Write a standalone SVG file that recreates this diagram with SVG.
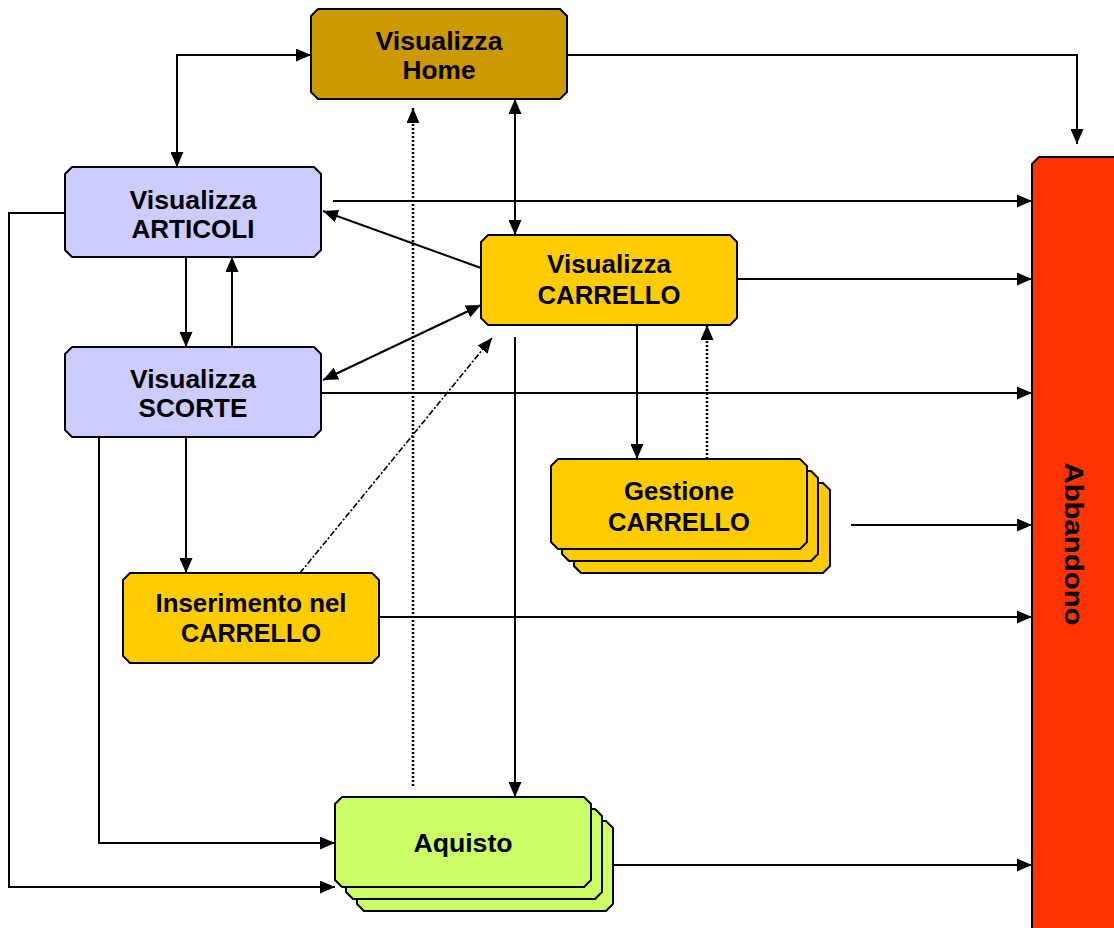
<svg xmlns="http://www.w3.org/2000/svg" width="1114" height="928" viewBox="0 0 1114 928">
  <style>
    .box { stroke: #000; stroke-width: 2; stroke-linejoin: round; }
    .home { fill: #CC9900; }
    .lilac { fill: #CCCCFF; }
    .gold { fill: #FFCC00; }
    .lime { fill: #CCFF66; }
    .exit { fill: #FF3300; }
    .lbl { font-family: "Liberation Sans", Arial, sans-serif; font-weight: bold; font-size: 25px; fill: #000; text-anchor: middle; }
    .ln { fill: none; stroke: #000; stroke-width: 2; }
    .dot { fill: none; stroke: #000; stroke-width: 2.5; stroke-dasharray: 2 2; }
    .dashdot { fill: none; stroke: #000; stroke-width: 1.6; stroke-dasharray: 6 2 2 2; }
  </style>
  <defs>
    <marker id="arr" viewBox="0 0 15 13" refX="15" refY="6.5" markerWidth="15" markerHeight="13" markerUnits="userSpaceOnUse" orient="auto-start-reverse">
      <path d="M0,0 L15,6.5 L0,13 Z" fill="#000"/>
    </marker>
  </defs>

  <rect width="1114" height="928" fill="#fff"/>

  <!-- connectors -->
  <g id="connectors">
    <polyline class="ln" points="177,167 177,55 311,55" marker-start="url(#arr)" marker-end="url(#arr)"/>
    <polyline class="ln" points="567,55 1077,55 1077,144" marker-end="url(#arr)"/>
    <line class="ln" x1="515" y1="99" x2="515" y2="235" marker-start="url(#arr)" marker-end="url(#arr)"/>
    <line class="ln" x1="333" y1="201" x2="1032" y2="201" marker-end="url(#arr)"/>
    <line class="ln" x1="481" y1="268" x2="323" y2="211" marker-end="url(#arr)"/>
    <line class="ln" x1="737" y1="279" x2="1032" y2="279" marker-end="url(#arr)"/>
    <line class="ln" x1="186" y1="257" x2="186" y2="347" marker-end="url(#arr)"/>
    <line class="ln" x1="232" y1="347" x2="232" y2="257" marker-end="url(#arr)"/>
    <line class="ln" x1="323" y1="380" x2="481" y2="305" marker-start="url(#arr)" marker-end="url(#arr)"/>
    <line class="ln" x1="321" y1="393" x2="1032" y2="393" marker-end="url(#arr)"/>
    <line class="ln" x1="186" y1="437" x2="186" y2="573" marker-end="url(#arr)"/>
    <polyline class="ln" points="99,437 99,843 335,843" marker-end="url(#arr)"/>
    <polyline class="ln" points="65,213 9,213 9,887 335,887" marker-end="url(#arr)"/>
    <line class="ln" x1="637" y1="325" x2="637" y2="459" marker-end="url(#arr)"/>
    <line class="dot" x1="707" y1="459" x2="707" y2="325" marker-end="url(#arr)"/>
    <line class="ln" x1="851" y1="525" x2="1032" y2="525" marker-end="url(#arr)"/>
    <line class="ln" x1="379" y1="617" x2="1032" y2="617" marker-end="url(#arr)"/>
    <line class="dashdot" x1="300" y1="573" x2="492" y2="338" marker-end="url(#arr)"/>
    <line class="dot" x1="413" y1="786" x2="413" y2="108" marker-end="url(#arr)"/>
    <line class="ln" x1="515" y1="337" x2="515" y2="797" marker-end="url(#arr)"/>
    <line class="ln" x1="613" y1="865" x2="1032" y2="865" marker-end="url(#arr)"/>
  </g>

  <!-- nodes -->
  <g id="home">
    <path class="box home" d="M318,9 H560 L567,16 V92 L560,99 H318 L311,92 V16 Z"/>
    <text class="lbl" x="439" y="50" textLength="127" lengthAdjust="spacingAndGlyphs">Visualizza</text>
    <text class="lbl" x="439" y="79" textLength="73" lengthAdjust="spacingAndGlyphs">Home</text>
  </g>

  <g id="articoli">
    <path class="box lilac" d="M72,167 H314 L321,174 V250 L314,257 H72 L65,250 V174 Z"/>
    <text class="lbl" x="193" y="209" textLength="127" lengthAdjust="spacingAndGlyphs">Visualizza</text>
    <text class="lbl" x="193" y="238" textLength="123" lengthAdjust="spacingAndGlyphs">ARTICOLI</text>
  </g>

  <g id="scorte">
    <path class="box lilac" d="M72,347 H314 L321,354 V430 L314,437 H72 L65,430 V354 Z"/>
    <text class="lbl" x="193" y="388" textLength="126" lengthAdjust="spacingAndGlyphs">Visualizza</text>
    <text class="lbl" x="193" y="417" textLength="109" lengthAdjust="spacingAndGlyphs">SCORTE</text>
  </g>

  <g id="carrello">
    <path class="box gold" d="M488,235 H730 L737,242 V318 L730,325 H488 L481,318 V242 Z"/>
    <text class="lbl" x="609" y="273" textLength="124" lengthAdjust="spacingAndGlyphs">Visualizza</text>
    <text class="lbl" x="609" y="304" textLength="143" lengthAdjust="spacingAndGlyphs">CARRELLO</text>
  </g>

  <g id="gestione">
    <path class="box gold" d="M581,483 H823 L830,490 V566 L823,573 H581 L574,566 V490 Z"/>
    <path class="box gold" d="M569,471 H811 L818,478 V554 L811,561 H569 L562,554 V478 Z"/>
    <path class="box gold" d="M558,459 H800 L807,466 V542 L800,549 H558 L551,542 V466 Z"/>
    <text class="lbl" x="679" y="500" textLength="110" lengthAdjust="spacingAndGlyphs">Gestione</text>
    <text class="lbl" x="679" y="531" textLength="142" lengthAdjust="spacingAndGlyphs">CARRELLO</text>
  </g>

  <g id="inserimento">
    <path class="box gold" d="M130,573 H372 L379,580 V656 L372,663 H130 L123,656 V580 Z"/>
    <text class="lbl" x="251" y="612" textLength="191" lengthAdjust="spacingAndGlyphs">Inserimento nel</text>
    <text class="lbl" x="251" y="642" textLength="140" lengthAdjust="spacingAndGlyphs">CARRELLO</text>
  </g>

  <g id="aquisto">
    <path class="box lime" d="M364,821 H606 L613,828 V904 L606,911 H364 L357,904 V828 Z"/>
    <path class="box lime" d="M353,809 H595 L602,816 V892 L595,899 H353 L346,892 V816 Z"/>
    <path class="box lime" d="M342,797 H584 L591,804 V880 L584,887 H342 L335,880 V804 Z"/>
    <text class="lbl" x="463" y="852" textLength="99" lengthAdjust="spacingAndGlyphs">Aquisto</text>
  </g>

  <g id="abbandono">
    <path class="box exit" d="M1039,157 H1122 V936 H1032 V164 Z"/>
    <text class="lbl" x="0" y="0" transform="translate(1065,544) rotate(90)" textLength="163" lengthAdjust="spacingAndGlyphs">Abbandono</text>
  </g>
</svg>
